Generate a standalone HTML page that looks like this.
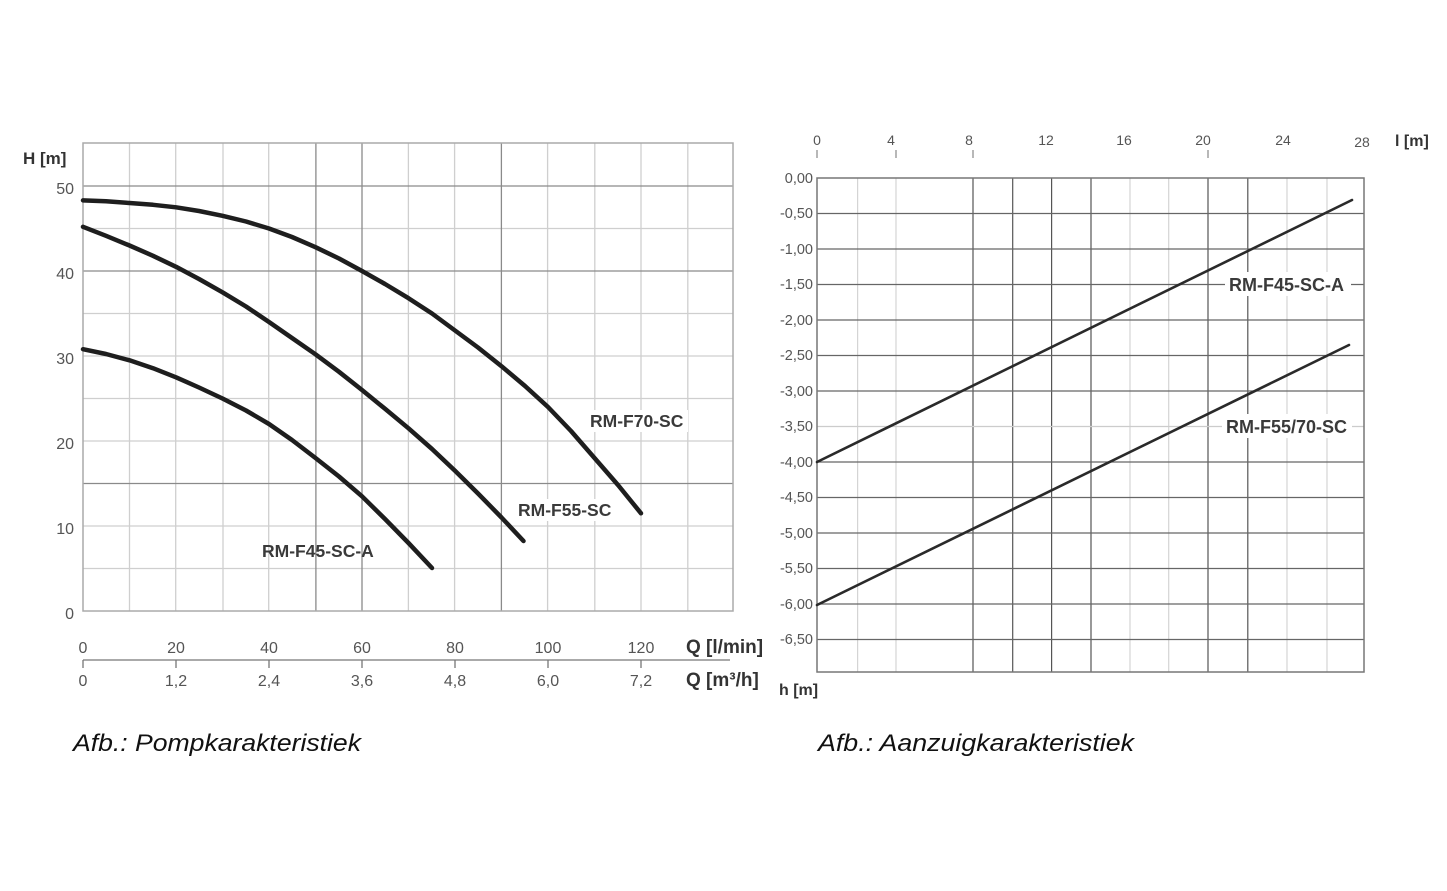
<!DOCTYPE html>
<html><head><meta charset="utf-8"><style>
html,body{margin:0;padding:0;background:#fff;}
svg{display:block;font-family:"Liberation Sans",sans-serif;}
</style></head><body>
<svg width="1447" height="891" viewBox="0 0 1447 891" xmlns="http://www.w3.org/2000/svg">
<rect width="1447" height="891" fill="#fff"/>
<!-- LEFT CHART -->
<g stroke="#cfcfcf" stroke-width="1.3">
<line x1="129.5" y1="143" x2="129.5" y2="611"/><line x1="175.7" y1="143" x2="175.7" y2="611"/>
<line x1="223" y1="143" x2="223" y2="611"/><line x1="268.7" y1="143" x2="268.7" y2="611"/>
<line x1="408.4" y1="143" x2="408.4" y2="611"/>
<line x1="454.6" y1="143" x2="454.6" y2="611"/><line x1="547.6" y1="143" x2="547.6" y2="611"/>
<line x1="594.8" y1="143" x2="594.8" y2="611"/><line x1="641" y1="143" x2="641" y2="611"/>
<line x1="687.8" y1="143" x2="687.8" y2="611"/>
<line x1="83" y1="228.5" x2="733" y2="228.5"/><line x1="83" y1="313.5" x2="733" y2="313.5"/>
<line x1="83" y1="356" x2="733" y2="356"/><line x1="83" y1="398.5" x2="733" y2="398.5"/>
<line x1="83" y1="441" x2="733" y2="441"/><line x1="83" y1="526" x2="733" y2="526"/>
<line x1="83" y1="568.5" x2="733" y2="568.5"/>
</g>
<g stroke="#8a8a8a" stroke-width="1.3">
<line x1="315.9" y1="143" x2="315.9" y2="611"/><line x1="362" y1="143" x2="362" y2="611"/>
<line x1="501.4" y1="143" x2="501.4" y2="611"/>
<line x1="83" y1="186" x2="733" y2="186"/><line x1="83" y1="271" x2="733" y2="271"/>
<line x1="83" y1="483.5" x2="733" y2="483.5"/>
</g>
<rect x="83" y="143" width="650" height="468" fill="none" stroke="#aaa" stroke-width="1.5"/>
<g fill="none" stroke="#1e1e1e" stroke-width="4.5" stroke-linejoin="round" stroke-linecap="round">
<polyline points="83,200.4 106,201.3 129.5,203 153,204.8 176,207.3 199,211 222.5,215.8 246,221.5 269,228.5 292,237 315.5,247.2 339,258.5 362,271 385,284 408.5,298.2 432,313.5 455,330.5 478,347.5 501.5,366.2 525,386 548,407 571,431 594.5,458 618,485 641,513.3"/>
<polyline points="83,226.8 106,235.8 129.5,245.5 153,255.8 176,266.8 199,279 222.5,292.3 246,306.5 269,322 292,338 315.5,354.3 339,371.8 362,390 385,408.8 408.5,428.3 432,449 455,470.8 478,493.5 501.5,517.5 523.5,541"/>
<polyline points="83,349.2 106,354 129.5,360.3 153,368.2 176,377.3 199,387.5 222.5,398.5 246,410.5 269,424 292,440 315.5,458 339,476.5 362,496.3 385,519 408.5,543 432,568"/>
</g>
<g font-size="17.5" font-weight="bold" fill="#3a3a3a">
<rect x="586" y="410" width="102" height="22" fill="#fff"/>
<text x="590" y="427">RM-F70-SC</text>
<rect x="514" y="499" width="104" height="22" fill="#fff"/>
<text x="518" y="516">RM-F55-SC</text>
<text x="262" y="557">RM-F45-SC-A</text>
</g>
<g font-size="16" fill="#555" text-anchor="end">
<text x="74" y="194">50</text><text x="74" y="279">40</text><text x="74" y="364">30</text>
<text x="74" y="449">20</text><text x="74" y="534">10</text><text x="74" y="619">0</text>
</g>
<text x="23" y="164" font-size="17" font-weight="bold" fill="#333">H [m]</text>
<g font-size="16" fill="#555" text-anchor="middle">
<text x="83" y="653">0</text><text x="176" y="653">20</text><text x="269" y="653">40</text>
<text x="362" y="653">60</text><text x="455" y="653">80</text><text x="548" y="653">100</text><text x="641" y="653">120</text>
<text x="83" y="686">0</text><text x="176" y="686">1,2</text><text x="269" y="686">2,4</text>
<text x="362" y="686">3,6</text><text x="455" y="686">4,8</text><text x="548" y="686">6,0</text><text x="641" y="686">7,2</text>
</g>
<g stroke="#777" stroke-width="1.3">
<line x1="83" y1="660" x2="730" y2="660"/>
<line x1="83" y1="660" x2="83" y2="668"/><line x1="176" y1="660" x2="176" y2="668"/>
<line x1="269" y1="660" x2="269" y2="668"/><line x1="362" y1="660" x2="362" y2="668"/>
<line x1="455" y1="660" x2="455" y2="668"/><line x1="548" y1="660" x2="548" y2="668"/>
<line x1="641" y1="660" x2="641" y2="668"/>
</g>
<g font-size="19" font-weight="bold" fill="#333">
<text x="686" y="653">Q [l/min]</text>
<text x="686" y="686">Q [m³/h]</text>
</g>
<!-- RIGHT CHART -->
<g stroke="#d4d4d4" stroke-width="1.2">
<line x1="857.6" y1="178" x2="857.6" y2="672"/><line x1="896" y1="178" x2="896" y2="672"/>
<line x1="1130" y1="178" x2="1130" y2="672"/><line x1="1168.7" y1="178" x2="1168.7" y2="672"/>
<line x1="1287" y1="178" x2="1287" y2="672"/><line x1="1327" y1="178" x2="1327" y2="672"/>
</g>
<g stroke="#555" stroke-width="1.2">
<line x1="973" y1="178" x2="973" y2="672"/><line x1="1012.7" y1="178" x2="1012.7" y2="672"/>
<line x1="1051.6" y1="178" x2="1051.6" y2="672"/><line x1="1091" y1="178" x2="1091" y2="672"/>
<line x1="1208" y1="178" x2="1208" y2="672"/><line x1="1247.8" y1="178" x2="1247.8" y2="672"/>
</g>
<g stroke="#666" stroke-width="1.2">
<line x1="817" y1="213.5" x2="1364" y2="213.5"/><line x1="817" y1="249" x2="1364" y2="249"/>
<line x1="817" y1="284.5" x2="1364" y2="284.5"/><line x1="817" y1="320" x2="1364" y2="320"/>
<line x1="817" y1="355.5" x2="1364" y2="355.5"/><line x1="817" y1="391" x2="1364" y2="391"/>
<line x1="817" y1="426.5" x2="1364" y2="426.5" stroke="#ccc"/><line x1="817" y1="462" x2="1364" y2="462"/>
<line x1="817" y1="497.5" x2="1364" y2="497.5"/><line x1="817" y1="533" x2="1364" y2="533"/>
<line x1="817" y1="568.5" x2="1364" y2="568.5"/><line x1="817" y1="604" x2="1364" y2="604"/>
<line x1="817" y1="639.5" x2="1364" y2="639.5"/>
</g>
<rect x="817" y="178" width="547" height="494" fill="none" stroke="#777" stroke-width="1.5"/>
<g stroke="#2a2a2a" stroke-width="2.6" stroke-linecap="round">
<line x1="817" y1="462" x2="1352" y2="200"/>
<line x1="817" y1="605" x2="1349" y2="345"/>
</g>
<g font-size="18" font-weight="bold" fill="#3a3a3a">
<rect x="1225" y="272" width="126" height="24" fill="#fff"/>
<text x="1229" y="291">RM-F45-SC-A</text>
<rect x="1222" y="414" width="130" height="24" fill="#fff"/>
<text x="1226" y="433">RM-F55/70-SC</text>
</g>
<g font-size="14.5" fill="#555" text-anchor="end">
<text x="813" y="183">0,00</text><text x="813" y="218">-0,50</text><text x="813" y="254">-1,00</text>
<text x="813" y="289">-1,50</text><text x="813" y="325">-2,00</text><text x="813" y="360">-2,50</text>
<text x="813" y="396">-3,00</text><text x="813" y="431">-3,50</text><text x="813" y="467">-4,00</text>
<text x="813" y="502">-4,50</text><text x="813" y="538">-5,00</text><text x="813" y="573">-5,50</text>
<text x="813" y="609">-6,00</text><text x="813" y="644">-6,50</text>
</g>
<g font-size="14" fill="#555" text-anchor="middle">
<text x="817" y="145">0</text><text x="891" y="145">4</text><text x="969" y="145">8</text>
<text x="1046" y="145">12</text><text x="1124" y="145">16</text><text x="1203" y="145">20</text>
<text x="1283" y="145">24</text><text x="1362" y="147">28</text>
</g>
<g stroke="#888" stroke-width="1.2">
<line x1="817" y1="150" x2="817" y2="158"/><line x1="896" y1="150" x2="896" y2="158"/>
<line x1="973" y1="150" x2="973" y2="158"/><line x1="1208" y1="150" x2="1208" y2="158"/>
</g>
<text x="1395" y="146" font-size="16" font-weight="bold" fill="#333">l [m]</text>
<text x="779" y="695" font-size="16" font-weight="bold" fill="#333">h [m]</text>
<!-- captions -->
<g font-size="24" font-style="italic" fill="#111">
<text x="73" y="751" textLength="288" lengthAdjust="spacingAndGlyphs">Afb.: Pompkarakteristiek</text>
<text x="818" y="751" textLength="316" lengthAdjust="spacingAndGlyphs">Afb.: Aanzuigkarakteristiek</text>
</g>
</svg>
</body></html>
